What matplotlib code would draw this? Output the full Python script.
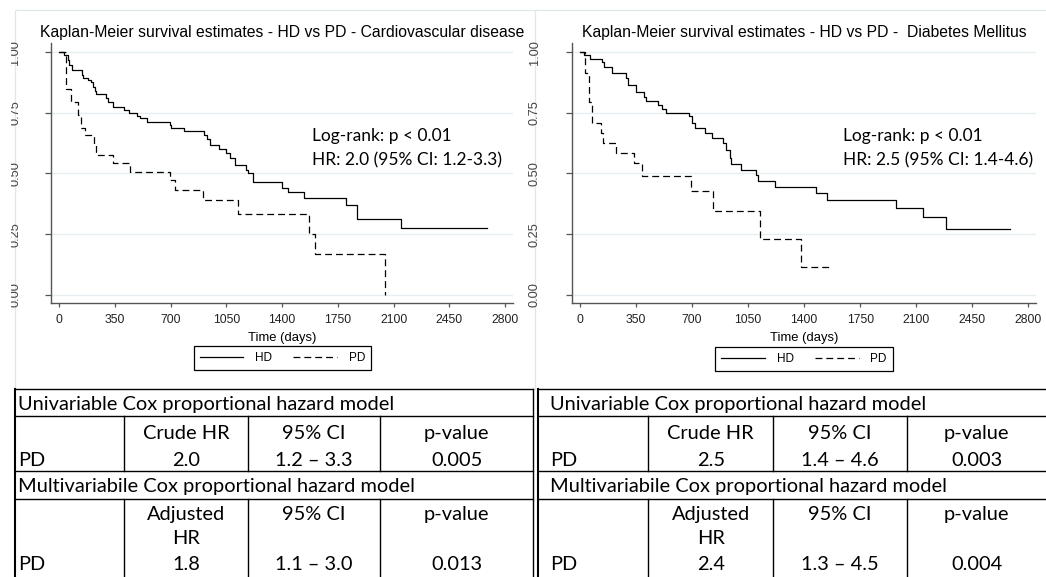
import matplotlib
matplotlib.use('Agg')
import matplotlib.pyplot as plt
from matplotlib.ticker import FormatStrFormatter
from matplotlib.transforms import Bbox, TransformedBbox

plt.rcParams['font.family'] = ['Liberation Sans', 'DejaVu Sans']

W, H = 1046, 577

# Kaplan-Meier steps: time (days) of each event, survival after it
cv_hd_t = [0, 27, 54, 64, 83, 140, 151, 182, 198, 213, 223, 233, 295, 306, 337,
           409, 436, 491, 506, 549, 698, 702, 785, 911, 925, 946, 1004, 1049,
           1070, 1101, 1173, 1187, 1218, 1396, 1439, 1538, 1803, 1868, 2144, 2685]
cv_hd_s = [1.0, 0.989, 0.968, 0.948, 0.927, 0.906, 0.893, 0.886, 0.879, 0.858,
           0.838, 0.828, 0.810, 0.796, 0.776, 0.762, 0.748, 0.739, 0.728, 0.714,
           0.700, 0.689, 0.675, 0.659, 0.641, 0.618, 0.601, 0.583, 0.563, 0.535,
           0.514, 0.501, 0.464, 0.442, 0.425, 0.398, 0.370, 0.312, 0.276, 0.276]
cv_pd_t = [0, 45, 72, 120, 135, 162, 218, 233, 335, 442, 695, 725, 905, 1125,
           1567, 1606, 2046]
cv_pd_s = [1.0, 0.849, 0.793, 0.741, 0.689, 0.659, 0.618, 0.576, 0.545, 0.508,
           0.472, 0.432, 0.389, 0.334, 0.252, 0.168, 0.0]

dm_hd_t = [0, 27, 62, 140, 151, 202, 289, 301, 347, 399, 413, 487, 512, 537, 681,
           698, 719, 781, 826, 894, 915, 935, 946, 1004, 1101, 1111, 1218, 1472,
           1541, 1975, 2140, 2283, 2688]
dm_hd_s = [1.0, 0.989, 0.971, 0.961, 0.941, 0.913, 0.893, 0.865, 0.835, 0.817,
           0.799, 0.783, 0.766, 0.748, 0.735, 0.707, 0.689, 0.666, 0.645, 0.624,
           0.597, 0.563, 0.539, 0.516, 0.494, 0.470, 0.446, 0.418, 0.389, 0.356,
           0.322, 0.271, 0.271]
dm_pd_t = [0, 31, 58, 78, 130, 145, 227, 337, 388, 692, 830, 1125, 1379, 1559]
dm_pd_s = [1.0, 0.913, 0.794, 0.707, 0.666, 0.625, 0.583, 0.542, 0.490, 0.429,
           0.345, 0.230, 0.116, 0.116]

xticks = [0, 350, 700, 1050, 1400, 1750, 2100, 2450, 2800]
yticks = [0.0, 0.25, 0.50, 0.75, 1.0]

titles = ['Kaplan-Meier survival estimates - HD vs PD - Cardiovascular disease',
          'Kaplan-Meier survival estimates - HD vs PD -  Diabetes Mellitus']
notes = ['Log-rank: p < 0.01\nHR: 2.0 (95% CI: 1.2-3.3)',
         'Log-rank: p < 0.01\nHR: 2.5 (95% CI: 1.4-4.6)']

# Cox model tables
uni_title = 'Univariable Cox proportional hazard model'
multi_title = 'Multivariabile Cox proportional hazard model'
uni_head = ['', 'Crude HR', '95% CI', 'p-value']
multi_head = ['', 'Adjusted\nHR', '95% CI', 'p-value']
cv_uni = ['PD', '2.0', '1.2 – 3.3', '0.005']
cv_multi = ['PD', '1.8', '1.1 – 3.0', '0.013']
dm_uni = ['PD', '2.5', '1.4 – 4.6', '0.003']
dm_multi = ['PD', '2.4', '1.3 – 4.5', '0.004']


def px_rect(l, t, r, b):
    return [l / W, 1 - b / H, (r - l) / W, (b - t) / H]


fig = plt.figure(figsize=(W / 100, H / 100), dpi=100)

# background layer in pixel units: panel outlines and tables
ov = fig.add_axes([0, 0, 1, 1], zorder=-1)
ov.set_xlim(0, W)
ov.set_ylim(H, 0)
ov.axis('off')

frame_col = '#dde9ec'
ov.plot([15, 15, 534], [389, 10, 10], color=frame_col, lw=0.9)
ov.plot([535, 535, W], [389, 10, 10], color=frame_col, lw=0.9)

panels = [
    dict(rect=px_rect(51, 43, 513.3, 303.3), xlim=(-52, 2851), clip=11,
         hd=(cv_hd_t, cv_hd_s), pd=(cv_pd_t, cv_pd_s), note_x=1590,
         leg=(282.5, 358)),
    dict(rect=px_rect(572.3, 43, 1036, 303.3), xlim=(-48, 2848), clip=528,
         hd=(dm_hd_t, dm_hd_s), pd=(dm_pd_t, dm_pd_s), note_x=1640,
         leg=(804, 359)),
]

for i, p in enumerate(panels):
    ax = fig.add_axes(p['rect'])
    ax.set_facecolor('none')
    l1, = ax.plot(p['hd'][0], p['hd'][1], drawstyle='steps-post', color='black',
                  lw=0.9, label='HD')
    l2, = ax.plot(p['pd'][0], p['pd'][1], drawstyle='steps-post', color='black',
                  lw=0.9, linestyle=(0, (5.5, 3.2)), label='PD')
    ax.set_xlim(*p['xlim'])
    ax.set_ylim(-0.0355, 1.038)
    ax.set_xticks(xticks)
    ax.set_yticks(yticks)
    ax.yaxis.set_major_formatter(FormatStrFormatter('%.2f'))
    ax.yaxis.grid(True, color='#e6eef1', lw=1.0)
    ax.set_axisbelow(True)
    for s in ['top', 'right']:
        ax.spines[s].set_visible(False)
    for s in ['left', 'bottom']:
        ax.spines[s].set_color('#555555')
        ax.spines[s].set_linewidth(1.0)
    ax.tick_params(axis='x', direction='out', length=3, width=0.9,
                   color='#555555', labelsize=8.8, pad=4.5, labelcolor='#222222')
    ax.tick_params(axis='y', direction='out', length=4.3, width=0.9,
                   color='#555555', labelsize=9.2, pad=17 if i == 0 else 18.5,
                   labelrotation=90, labelcolor='#444444')
    clip = TransformedBbox(Bbox.from_extents(p['clip'] / W, 0, 1, 1),
                           fig.transFigure)
    for t in ax.yaxis.get_major_ticks():
        t.label1.set_verticalalignment('center')
        t.label1.set_clip_box(clip)
        t.label1.set_clip_on(True)

    ax.set_title(titles[i], fontsize=11.3, pad=4)
    ax.set_xlabel('Time (days)', fontsize=9.4, labelpad=4.5)
    ax.text(p['note_x'], 0.605, notes[i], fontsize=12.5, family='Lato',
            va='center', ha='left', linespacing=1.6)

    leg = fig.legend([l1, l2], ['HD', 'PD'], loc='center',
                     bbox_to_anchor=(p['leg'][0] / W, 1 - p['leg'][1] / H),
                     ncol=2, fontsize=8.5, frameon=True, fancybox=False,
                     edgecolor='black', framealpha=1, handlelength=3.7,
                     handletextpad=1.0, columnspacing=1.8, borderpad=0.5)
    leg.get_frame().set_linewidth(0.9)

# table grid (pixel positions), text placed on baselines
tables = [
    dict(left=15, right=533, cols=[124, 248.3, 380], text_x=18,
         uni=cv_uni, multi=cv_multi),
    dict(left=538, right=1047, cols=[648.3, 773.3, 906.7], text_x=550,
         uni=dm_uni, multi=dm_multi),
]
row_lines = [389, 416, 471, 499]
tfont = dict(family='Lato', fontsize=14.4, color='black', va='baseline')

for tb in tables:
    for y in row_lines:
        ov.plot([tb['left'], tb['right']], [y, y], color='black', lw=1.0)
    ov.plot([tb['left'], tb['left']], [row_lines[0], H], color='black', lw=1.5)
    ov.plot([tb['right'], tb['right']], [row_lines[0], H], color='black', lw=1.0)
    for c in tb['cols']:
        ov.plot([c, c], [416, 471], color='black', lw=1.0)
        ov.plot([c, c], [499, H], color='black', lw=1.0)
    edges = [tb['left']] + tb['cols'] + [tb['right']]
    centers = [(edges[k] + edges[k + 1]) / 2 for k in range(4)]

    ov.text(tb['text_x'], 410, uni_title, ha='left', **tfont)
    ov.text(tb['text_x'], 492, multi_title, ha='left', **tfont)
    for k in range(1, 4):
        ov.text(centers[k], 438.7, uni_head[k], ha='center', **tfont)
        ov.text(centers[k], 466.3, tb['uni'][k], ha='center', **tfont)
        for j, line in enumerate(multi_head[k].split('\n')):
            ov.text(centers[k], 520 + 24 * j, line, ha='center', **tfont)
        ov.text(centers[k], 570, tb['multi'][k], ha='center', **tfont)
    ov.text(tb['text_x'], 466.3, tb['uni'][0], ha='left', **tfont)
    ov.text(tb['text_x'], 570, tb['multi'][0], ha='left', **tfont)

fig.savefig('out.png', dpi=100)
